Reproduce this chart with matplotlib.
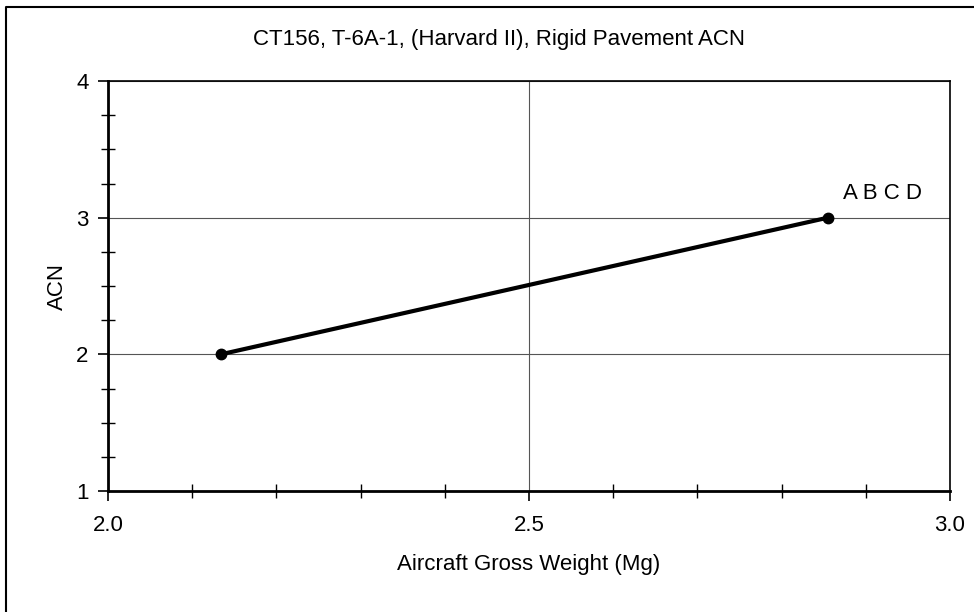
import matplotlib.pyplot as plt
from matplotlib.lines import Line2D
from matplotlib.ticker import MultipleLocator

plt.rcParams['font.family'] = ['Liberation Sans', 'DejaVu Sans']

# data
weight = [2.134, 2.855]   # Mg
acn = [2.0, 3.0]
point_label = "A B C D"

fs = 16

fig = plt.figure(figsize=(9.74, 6.12), dpi=100)
ax = fig.add_axes([108 / 974, 121 / 612, 842 / 974, 410 / 612])

ax.plot(weight, acn, color="black", lw=3, marker="o", ms=7.5, zorder=3)
ax.text(weight[-1] + 0.018, acn[-1] + 0.14, point_label, fontsize=fs,
        ha="left", va="baseline")

ax.set_xlim(2.0, 3.0)
ax.set_ylim(1, 4)
ax.xaxis.set_minor_locator(MultipleLocator(0.1))
ax.yaxis.set_minor_locator(MultipleLocator(0.25))
ax.set_xticks([2.0, 2.5, 3.0], ["2.0", "2.5", "3.0"])
ax.set_yticks([1, 2, 3, 4], ["1", "2", "3", "4"])

ax.grid(which="major", color="#555555", lw=0.8)
ax.tick_params(which="major", direction="out", length=7, width=1.2, labelsize=fs)
ax.tick_params(axis="x", which="major", pad=10)
ax.tick_params(axis="y", which="major", pad=7)
ax.tick_params(which="minor", direction="inout", length=10, width=1)

for side in ["left", "bottom"]:
    ax.spines[side].set_linewidth(2)
for side in ["top", "right"]:
    ax.spines[side].set_linewidth(1.2)

ax.set_xlabel("Aircraft Gross Weight (Mg)", fontsize=fs, labelpad=13)
ax.set_ylabel("ACN", fontsize=fs, labelpad=6)
fig.text(499 / 974, 1 - 39 / 612, "CT156, T-6A-1, (Harvard II), Rigid Pavement ACN",
         fontsize=fs, ha="center", va="center")

# outer frame (left and top edges visible)
fig.add_artist(Line2D([6 / 974, 6 / 974, 1.0], [0.0, 1 - 7 / 612, 1 - 7 / 612],
                      transform=fig.transFigure, color="black", lw=1.5))

plt.savefig("out.png", dpi=100)
